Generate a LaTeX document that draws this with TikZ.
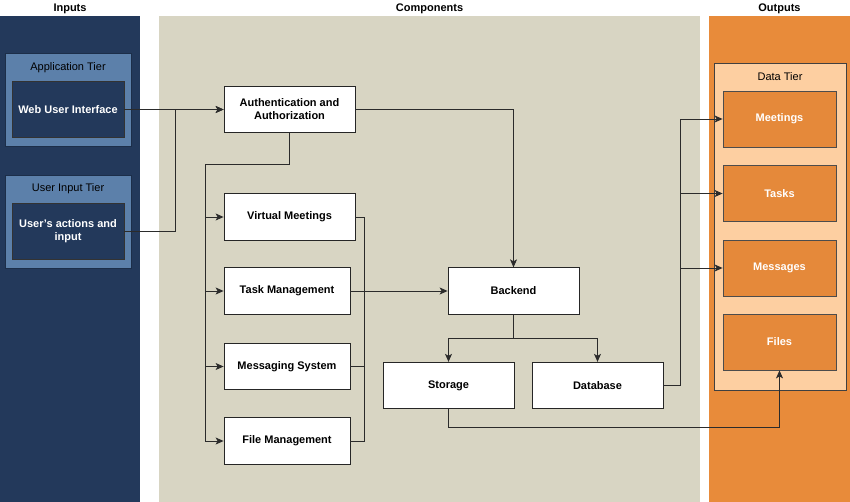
\documentclass[tikz,border=0pt]{standalone}
\usepackage{fontspec}
\setmainfont{Liberation Sans}
\usetikzlibrary{arrows.meta}
\definecolor{navy}{HTML}{23395B}
\definecolor{tierblue}{HTML}{5C80AA}
\definecolor{khaki}{HTML}{D8D5C3}
\definecolor{orangelane}{HTML}{E88B3A}
\definecolor{orangebox}{HTML}{E5893A}
\definecolor{peach}{HTML}{FDCFA1}
\definecolor{linegray}{HTML}{2B2B2B}
\begin{document}
\begin{tikzpicture}[x=1pt,y=-1pt,
	every node/.style={align=center,font=\fontsize{11}{13}\selectfont},
	lane/.style={inner sep=0pt,minimum width=#1,minimum height=486pt},
	title/.style={font=\fontsize{11}{13}\selectfont\bfseries},
	tier/.style={draw=navy!80!black,line width=1pt,fill=tierblue,minimum width=126pt,minimum height=93pt},
	inbox/.style={draw=black!80,line width=0.8pt,fill=navy,text=white,font=\fontsize{11}{13}\selectfont\bfseries,minimum width=112pt,minimum height=56pt},
	comp/.style={draw=black!85,line width=0.8pt,fill=white,font=\fontsize{11}{13}\selectfont\bfseries,minimum width=#1,minimum height=46.5pt},
	comp/.default=131pt,
	outbox/.style={draw=black!70,line width=0.8pt,fill=orangebox,text=white,font=\fontsize{11}{13}\selectfont\bfseries,minimum width=113pt,minimum height=56pt},
	wire/.style={draw=linegray,line width=0.9pt},
	link/.style={wire,-{Stealth[length=8pt,width=7pt,inset=2pt]}}]
	\useasboundingbox (0,0) rectangle (850,502);

	% lanes
	\node[lane=140pt,fill=navy] (inputs) at (70,259) {};
	\node[lane=541pt,fill=khaki] (components) at (429.5,259) {};
	\node[lane=141pt,fill=orangelane] (outputs) at (779.5,259) {};
	\node[title] (inputs-title) at (70,9) {Inputs};
	\node[title] (components-title) at (429.5,9) {Components};
	\node[title] (outputs-title) at (779.5,9) {Outputs};

	% inputs
	\node[tier] (apptier) at (68,100.5) {};
	\node (apptier-label) at (68,68) {Application Tier};
	\node[inbox] (web) at (68,109.5) {Web User Interface};
	\node[tier] (usertier) at (68,222) {};
	\node (usertier-label) at (68,189) {User Input Tier};
	\node[inbox] (actions) at (68,231) {User's actions and\\input};

	% components
	\node[comp] (auth) at (289.5,109.5) {Authentication and\\Authorization};
	\node[comp] (meetings) at (289.5,217) {Virtual Meetings};
	\node[comp=126pt] (tasks) at (287,291) {Task Management};
	\node[comp=126pt] (messaging) at (287,366.5) {Messaging System};
	\node[comp=126pt] (filemgmt) at (287,441) {File Management};
	\node[comp] (backend) at (513.5,291) {Backend};
	\node[comp] (storage) at (448.5,385.5) {Storage};
	\node[comp] (database) at (597.5,385.5) {Database};

	% outputs
	\node[draw=black!75,line width=0.8pt,fill=peach,minimum width=132pt,minimum height=327pt] (datatier) at (780,226.5) {};
	\node (datatier-label) at (780,77) {Data Tier};
	\node[outbox] (out-meetings) at (779.5,119) {Meetings};
	\node[outbox] (out-tasks) at (779.5,193.5) {Tasks};
	\node[outbox] (out-messages) at (779.5,268) {Messages};
	\node[outbox] (out-files) at (779.5,342) {Files};

	\coordinate (busL) at (205,164);
	\coordinate (busR) at (364,291);
	\coordinate (split) at (513.5,338);

	\draw[link] (web) -- (auth);
	\draw[link] (actions.east) -- ++(51,0) |- (auth.west);
	\draw[link] (auth.south) |- (busL) |- (meetings.west);
	\draw[link] (auth.south) |- (busL) |- (tasks.west);
	\draw[link] (auth.south) |- (busL) |- (messaging.west);
	\draw[link] (auth.south) |- (busL) |- (filemgmt.west);
	\draw[link] (auth.east) -| (backend.north);
	\draw[wire] (meetings.east) -| (busR);
	\draw[wire] (messaging.east) -| (busR);
	\draw[wire] (filemgmt.east) -| (busR);
	\draw[link] (tasks.east) -- (backend.west);
	\draw[link] (backend.south) -- (split) -| (storage.north);
	\draw[link] (backend.south) -- (split) -| (database.north);
	\draw[link] (database.east) -| ([xshift=-42pt]out-meetings.west) -- (out-meetings.west);
	\draw[link] (database.east) -| ([xshift=-42pt]out-tasks.west) -- (out-tasks.west);
	\draw[link] (database.east) -| ([xshift=-42pt]out-messages.west) -- (out-messages.west);
	\draw[link] (storage.south) -- ++(0,18) -| (out-files.south);
\end{tikzpicture}
\end{document}
